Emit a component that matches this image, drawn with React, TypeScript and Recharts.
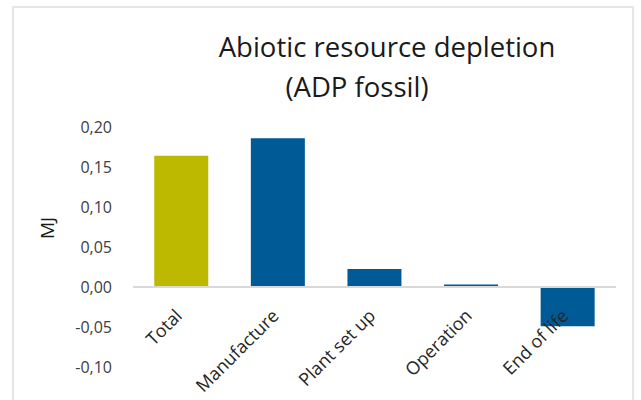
import React from 'react';
import { BarChart, Bar, XAxis, YAxis, Cell, ReferenceLine } from 'recharts';

const categories = ['Total', 'Manufacture', 'Plant set up', 'Operation', 'End of life'];
const adpFossil = [0.164, 0.186, 0.0225, 0.003, -0.049];
const yTicks = [-0.1, -0.05, 0, 0.05, 0.1, 0.15, 0.2];

const data = categories.map((name, i) => ({ name, value: adpFossil[i] }));

const W = 641;
const H = 400;
const margin = { top: 127, right: 25, bottom: 0, left: 0 };
const xAxisHeight = 33;
const yMin = yTicks[0];
const yMax = yTicks[yTicks.length - 1];
// distance from the bottom of the plot up to the zero line
const plotH = H - margin.top - margin.bottom - xAxisHeight;
const zeroOffset = (plotH * (0 - yMin)) / (yMax - yMin);

const FONT = '"Open Sans", "Noto Sans", sans-serif';
const TOTAL_COLOR = '#bdb800';
const PHASE_COLOR = '#005a96';

const fmt = (v: number) => v.toFixed(2).replace('.', ',');

const CategoryTick = ({ x, y, payload }: any) => {
  const zy = y - zeroOffset;
  return (
    <text
      transform={`translate(${x + 2},${zy + 30}) rotate(-45)`}
      textAnchor="end"
      fontSize={18}
      fontFamily={FONT}
      fill="#262626"
    >
      {payload.value}
    </text>
  );
};

const UnitLabel = ({ viewBox }: any) => {
  const cx = viewBox.x + 47;
  const cy = viewBox.y + viewBox.height / 2 - 19;
  return (
    <text
      x={cx}
      y={cy}
      transform={`rotate(-90, ${cx}, ${cy})`}
      textAnchor="middle"
      dominantBaseline="central"
      fontSize={19}
      fontFamily={FONT}
      fill="#1a1a1a"
    >
      MJ
    </text>
  );
};

export default function App() {
  return (
    <div
      style={{
        position: 'absolute',
        left: 0,
        top: 0,
        width: W,
        height: H,
        overflow: 'hidden',
        background: '#fff',
        fontFamily: FONT,
      }}
    >
      <div
        style={{
          position: 'absolute',
          left: 12,
          top: 6,
          width: 622,
          height: 420,
          border: '2px solid #e6e6e6',
          boxSizing: 'border-box',
        }}
      />
      <div
        style={{
          position: 'absolute',
          left: 187,
          top: 32,
          width: 400,
          textAlign: 'center',
          fontSize: 27.5,
          lineHeight: '30px',
          color: '#1a1a1a',
        }}
      >
        Abiotic resource depletion
      </div>
      <div
        style={{
          position: 'absolute',
          left: 157,
          top: 72,
          width: 400,
          textAlign: 'center',
          fontSize: 27.5,
          lineHeight: '30px',
          color: '#1a1a1a',
        }}
      >
        (ADP fossil)
      </div>
      <div style={{ position: 'absolute', left: 0, top: 0 }}>
        <BarChart width={W} height={H} data={data} margin={margin} barCategoryGap="22%">
          <XAxis
            dataKey="name"
            height={xAxisHeight}
            axisLine={false}
            tickLine={false}
            tickSize={0}
            tickMargin={0}
            interval={0}
            tick={<CategoryTick />}
          />
          <YAxis
            width={133}
            domain={[yMin, yMax]}
            ticks={yTicks}
            tickFormatter={fmt}
            axisLine={false}
            tickLine={false}
            tickSize={0}
            tickMargin={21}
            tick={{ fontSize: 16, fontFamily: FONT, fill: '#404040' }}
            label={<UnitLabel />}
          />
          <ReferenceLine y={0} stroke="#d9d9d9" strokeWidth={2} />
          <Bar dataKey="value" isAnimationActive={false}>
            {data.map((d) => (
              <Cell key={d.name} fill={d.name === 'Total' ? TOTAL_COLOR : PHASE_COLOR} />
            ))}
          </Bar>
        </BarChart>
      </div>
    </div>
  );
}
